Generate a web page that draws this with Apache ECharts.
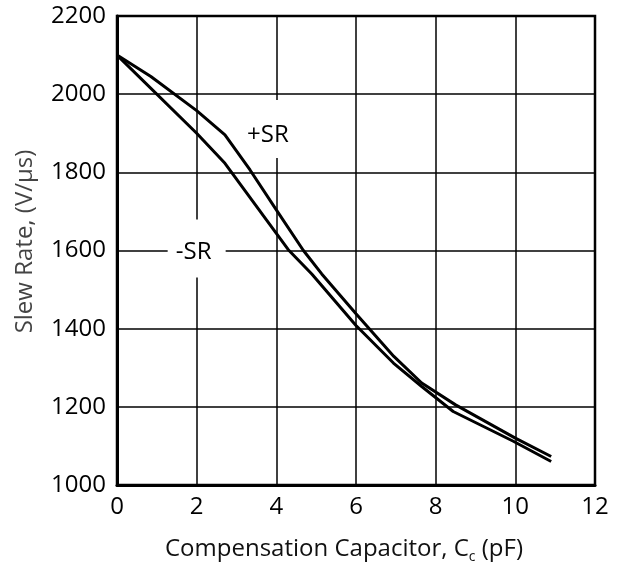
<!DOCTYPE html>
<html>
<head>
<meta charset="utf-8">
<script src="https://cdn.jsdelivr.net/npm/echarts@6/dist/echarts.min.js"></script>
<style>html,body{margin:0;padding:0;background:#fff;}#c{width:620px;height:571px;}</style>
</head>
<body>
<div id="c"></div>
<script>
var xTicks = [0, 2, 4, 6, 8, 10, 12];
var yTicks = [1000, 1200, 1400, 1600, 1800, 2000, 2200];
var posSR_x = [0, 0.85, 2.0, 2.71, 3.34, 4.0, 4.68, 5.14, 6.0, 6.95, 7.65, 8.5, 10.0, 10.9];
var posSR_y = [2100, 2045, 1958, 1896, 1806, 1704, 1600, 1540, 1438, 1329, 1261, 1205, 1120, 1073];
var negSR_x = [0, 2.0, 2.71, 4.0, 4.3, 4.89, 6.0, 6.94, 7.65, 8.44, 9.95, 10.9];
var negSR_y = [2100, 1900, 1823, 1644, 1602, 1540, 1408, 1312, 1252, 1188, 1112, 1060];

function pairs(xs, ys) { return xs.map(function (x, i) { return [x, ys[i]]; }); }

var FONT = 'Open Sans';
var chart = echarts.init(document.getElementById('c'), null, { renderer: 'canvas' });
chart.setOption({
  animation: false,
  backgroundColor: '#fff',
  grid: { left: 117, right: 25, top: 16, bottom: 86, show: true, borderColor: '#000', borderWidth: 2.5,
    backgroundColor: 'transparent', containLabel: false, outerBoundsMode: 'none' },
  xAxis: {
    type: 'value', min: xTicks[0], max: xTicks[xTicks.length - 1], interval: 2,
    name: 'Compensation Capacitor, C{sub|c} (pF)',
    nameLocation: 'middle', nameGap: 49,
    nameTextStyle: { fontFamily: FONT, fontSize: 24, color: '#111', padding: [0, 24, 0, 0],
      rich: { sub: { fontFamily: FONT, fontSize: 14, color: '#111', padding: [16, 0, 0, 0] } } },
    axisLine: { show: true, lineStyle: { color: '#000', width: 3 } },
    axisTick: { show: false },
    axisLabel: { fontFamily: FONT, fontSize: 24, color: '#000', margin: 10, formatter: function (v) { return String(v); } },
    splitLine: { show: true, lineStyle: { color: '#000', width: 1.5 } }
  },
  yAxis: {
    type: 'value', min: yTicks[0], max: yTicks[yTicks.length - 1], interval: 200,
    name: 'Slew Rate, (V/\u00b5s)',
    nameLocation: 'middle', nameGap: 80,
    nameTextStyle: { fontFamily: FONT, fontSize: 24, color: '#444', padding: [0, 0, 0, 18] },
    axisLine: { show: true, lineStyle: { color: '#000', width: 3 } },
    axisTick: { show: false },
    axisLabel: { fontFamily: FONT, fontSize: 24, color: '#000', margin: 11, padding: [8, 0, 0, 0], formatter: function (v) { return String(v); } },
    splitLine: { show: true, lineStyle: { color: '#000', width: 1.5 } }
  },
  series: [
    {
      name: '+SR', type: 'line', data: pairs(posSR_x, posSR_y), showSymbol: false, smooth: false,
      lineStyle: { color: '#000', width: 3 },
      markPoint: {
        symbol: 'rect', symbolSize: [48, 58], itemStyle: { color: '#fff' }, silent: true,
        label: { show: true, formatter: '+SR', fontFamily: FONT, fontSize: 24, color: '#000', offset: [-2, 6] },
        data: [{ coord: [3.84, 1911] }]
      }
    },
    {
      name: '-SR', type: 'line', data: pairs(negSR_x, negSR_y), showSymbol: false, smooth: false,
      lineStyle: { color: '#000', width: 3 },
      markPoint: {
        symbol: 'rect', symbolSize: [58, 58], itemStyle: { color: '#fff' }, silent: true,
        label: { show: true, formatter: '-SR', fontFamily: FONT, fontSize: 24, color: '#000', offset: [-3, 4] },
        data: [{ coord: [2.0, 1605] }]
      }
    }
  ]
});
</script>
</body>
</html>
